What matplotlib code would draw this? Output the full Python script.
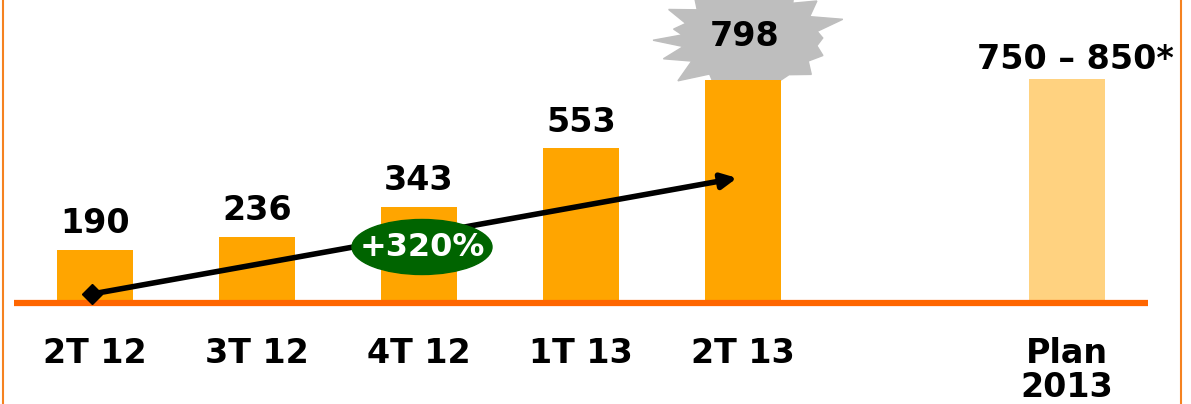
import numpy as np
import matplotlib.pyplot as plt
from matplotlib.patches import Ellipse, Polygon

# data
quarters = ['2T 12', '3T 12', '4T 12', '1T 13', '2T 13']
values = [190, 236, 343, 553, 798]
plan_label = 'Plan\n2013'
plan_value = 800
plan_text = '750 – 850*'
growth_text = '+320%'

bar_color = '#FFA500'
plan_color = '#FFD280'
line_color = '#FF6600'

# pixel -> data helpers (axes fills the whole figure)
px_x0, px_step = 95, 162
px_base, px_per_val = 303, 223 / 798


def dx(px):
    return (px - px_x0) / px_step


def dy(py):
    return (px_base - py) / px_per_val


fig = plt.figure(figsize=(11.91, 4.04), dpi=100)
ax = fig.add_axes([0, 0, 1, 1])
ax.set_xlim(dx(0), dx(1191))
ax.set_ylim(dy(404), dy(0))
ax.axis('off')

x = np.arange(len(values))
plan_x = len(values) + 1
width = 76 / px_step

ax.bar(x, values, width=width, color=bar_color, zorder=2)
ax.bar(plan_x, plan_value, width=width, color=plan_color, zorder=2)
ax.hlines(0, dx(14), dx(1148), color=line_color, lw=4.5, zorder=3)

# side frame lines
ax.axvline(dx(3), color='#F58220', lw=1.5)
ax.axvline(dx(1181), color='#F58220', lw=1.5)

font = dict(fontsize=24, fontweight='bold', family='DejaVu Sans')

# value labels
for xi, v in zip(x[:-1], values[:-1]):
    ax.annotate(str(v), (xi, v), xytext=(0, 7), textcoords='offset points',
                ha='center', va='bottom', **font)

ax.text(plan_x + dx(1075) - dx(1067), dy(60), plan_text, ha='center',
        va='center', **font)

# category labels
for xi, q in zip(x, quarters):
    ax.text(xi, dy(337), q, ha='center', va='top', **font)
ax.text(plan_x, dy(337), plan_label, ha='center', va='top',
        linespacing=1.05, **font)

# growth arrow
x0, y0 = dx(92), dy(294)
x1, y1 = dx(737), dy(178)
ax.annotate('', xy=(x1, y1), xytext=(x0, y0),
            arrowprops=dict(arrowstyle='-|>,head_length=0.9,head_width=0.45',
                            color='black', lw=4, shrinkA=0, shrinkB=0),
            zorder=4)
ax.plot(x0, y0, marker='D', color='black', markersize=10, zorder=5)

ell = Ellipse((dx(422), dy(247)), 140 / px_step, 55 / px_per_val,
              color='#006400', zorder=6)
ax.add_patch(ell)
ax.text(dx(422), dy(247), growth_text, color='white', ha='center',
        va='center', fontsize=23, fontweight='bold', zorder=7)

# starburst behind the 798 label: spike angles (deg) and relative radii
cx, cy, a_px, b_px = 750, 38, 97, 64
spike_ang = [0, 17, 40, 62, 85, 108, 130, 152, 170, 182, 200, 222, 245,
             268, 292, 318, 340]
spike_r = [0.75, 1.0, 0.9, 1.0, 0.95, 1.0, 0.9, 0.95, 0.8, 1.0, 0.95, 1.0,
           0.85, 0.9, 0.75, 0.85, 0.8]
inner_r = 0.7
pts = []
n = len(spike_ang)
for i in range(n):
    t = np.radians(spike_ang[i])
    t_next = np.radians(spike_ang[(i + 1) % n] + (360 if i == n - 1 else 0))
    m = (t + t_next) / 2
    pts.append((dx(cx + a_px * spike_r[i] * np.cos(t)),
                dy(cy - b_px * spike_r[i] * np.sin(t))))
    pts.append((dx(cx + a_px * inner_r * np.cos(m)),
                dy(cy - b_px * inner_r * np.sin(m))))
ax.add_patch(Polygon(pts, closed=True, color='#BEBEBE', zorder=1.5))
ax.text(dx(745), dy(37), str(values[-1]), ha='center', va='center',
        zorder=5, **font)

fig.savefig('out.png', dpi=100)
